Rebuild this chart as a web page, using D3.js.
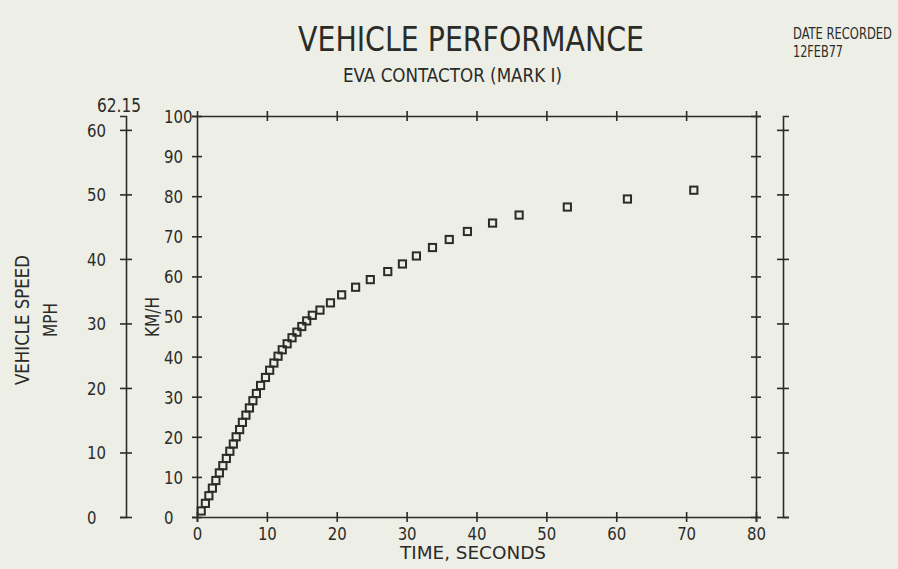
<!DOCTYPE html>
<head>
<meta charset="utf-8">
<style>
  body { margin: 0; background: #edefe7; }
  svg { display: block; }
  .plot text { font-family: "Liberation Sans Narrow", "DejaVu Sans Condensed", sans-serif; fill: #2b2b28; }
  .axis path, .axis line { stroke: #2b2b28; stroke-width: 1.6; }
  .axis text { font-size: 18px; }
</style>
</head>
<body>
<div id="chart"></div>
<script src="https://d3js.org/d3.v7.min.js"></script>
<script>
// readings (time in s, speed in km/h)
var timeSec = [0.6, 1.2, 1.7, 2.2, 2.7, 3.2, 3.7, 4.2, 4.7, 5.2, 5.6, 6.1, 6.5, 7.0, 7.5, 8.0, 8.5,
               9.1, 9.8, 10.4, 11.0, 11.6, 12.2, 12.9, 13.6, 14.3, 15.0, 15.7, 16.5, 17.6, 19.1, 20.7,
               22.7, 24.8, 27.3, 29.4, 31.4, 33.7, 36.1, 38.7, 42.3, 46.1, 53.0, 61.6, 71.1];
var speedKmh = [1.5, 3.4, 5.3, 7.2, 9.1, 11.0, 12.8, 14.6, 16.4, 18.2, 20.0, 21.8, 23.6, 25.4, 27.2, 29.0, 30.8,
                32.8, 34.8, 36.6, 38.4, 40.1, 41.7, 43.2, 44.7, 46.1, 47.5, 48.9, 50.3, 51.6, 53.4, 55.4,
                57.3, 59.2, 61.2, 63.1, 65.1, 67.2, 69.2, 71.2, 73.3, 75.3, 77.3, 79.3, 81.5];

var timeTicks = [0, 10, 20, 30, 40, 50, 60, 70, 80];
var kmhTicks = [0, 10, 20, 30, 40, 50, 60, 70, 80, 90, 100];
var mphTicks = [0, 10, 20, 30, 40, 50, 60];
var mphTop = 62.15;   // = 100 km/h

var width = 898, height = 569;

var svg = d3.select("#chart").append("svg")
    .attr("width", width)
    .attr("height", height)
    .attr("class", "plot");

var x = d3.scaleLinear().domain([0, 80]).range([197, 756]);
var y = d3.scaleLinear().domain([0, 100]).range([517, 116]);
var yMph = d3.scaleLinear().domain([0, mphTop]).range([517, 116]);

// ticks cross the axis line on both sides, labels squeezed like the plotter font
function crossTicks(g, horiz, len) {
  g.selectAll(".tick line")
    .attr(horiz ? "y1" : "x1", -len)
    .attr(horiz ? "y2" : "x2", len);
  g.selectAll(".tick text")
    .attr("lengthAdjust", "spacingAndGlyphs")
    .attr("textLength", function() { return this.textContent.length * 9.5; });
}

// bottom axis (time)
svg.append("g")
    .attr("class", "axis")
    .attr("transform", "translate(0," + y(0) + ")")
    .call(d3.axisBottom(x).tickValues(timeTicks).tickSizeOuter(0).tickSize(5).tickPadding(5).tickFormat(d3.format("d")))
    .call(crossTicks, true, 5);

// top of frame
svg.append("g")
    .attr("class", "axis")
    .attr("transform", "translate(0," + y(100) + ")")
    .call(d3.axisTop(x).tickValues(timeTicks.slice(1, 8)).tickSizeOuter(0).tickSize(5).tickFormat(""))
    .call(crossTicks, true, 5);

// left km/h axis
var kmh = svg.append("g")
    .attr("class", "axis")
    .attr("transform", "translate(" + x(0) + ",0)")
    .call(d3.axisLeft(y).tickValues(kmhTicks).tickSizeOuter(0).tickSize(5).tickFormat(d3.format("d")))
    .call(crossTicks, false, 5);
kmh.selectAll(".tick text").attr("x", -33).attr("text-anchor", "start").attr("dy", "0.36em");

// right side of frame
svg.append("g")
    .attr("class", "axis")
    .attr("transform", "translate(" + x(80) + ",0)")
    .call(d3.axisRight(y).tickValues(kmhTicks).tickSizeOuter(0).tickSize(5).tickFormat(""))
    .call(crossTicks, false, 5);

// left mph axis
var mph = svg.append("g")
    .attr("class", "axis")
    .attr("transform", "translate(126,0)")
    .call(d3.axisLeft(yMph).tickValues(mphTicks).tickSizeOuter(0).tickSize(6).tickFormat(d3.format("d")))
    .call(crossTicks, false, 6);
mph.selectAll(".tick text").attr("x", -39).attr("text-anchor", "start").attr("dy", "0.36em");

// right mph axis
svg.append("g")
    .attr("class", "axis")
    .attr("transform", "translate(783,0)")
    .call(d3.axisRight(yMph).tickValues(mphTicks).tickSizeOuter(0).tickSize(6).tickFormat(""))
    .call(crossTicks, false, 6);

svg.append("text")
    .attr("x", 97).attr("y", 112)
    .attr("font-size", 19)
    .attr("textLength", 44).attr("lengthAdjust", "spacingAndGlyphs")
    .text(mphTop.toFixed(2));

// data squares
svg.selectAll(".pt")
    .data(timeSec.map(function(t, i) { return [t, speedKmh[i]]; }))
  .enter().append("rect")
    .attr("class", "pt")
    .attr("x", function(d) { return x(d[0]) - 3.6; })
    .attr("y", function(d) { return y(d[1]) - 3.6; })
    .attr("width", 7.2)
    .attr("height", 7.2)
    .attr("fill", "none")
    .attr("stroke", "#2b2b28")
    .attr("stroke-width", 2);

// titles and axis labels
svg.append("text")
    .attr("x", 298).attr("y", 51)
    .attr("font-size", 33)
    .attr("textLength", 346).attr("lengthAdjust", "spacingAndGlyphs")
    .text("VEHICLE PERFORMANCE");

svg.append("text")
    .attr("x", 343).attr("y", 82)
    .attr("font-size", 19)
    .attr("font-family", "Liberation Sans, Arial, sans-serif")
    .attr("textLength", 219).attr("lengthAdjust", "spacingAndGlyphs")
    .text("EVA CONTACTOR (MARK I)");

svg.append("text")
    .attr("x", 793).attr("y", 39)
    .attr("font-size", 15)
    .attr("textLength", 99).attr("lengthAdjust", "spacingAndGlyphs")
    .text("DATE RECORDED");

svg.append("text")
    .attr("x", 793).attr("y", 57)
    .attr("font-size", 15)
    .attr("textLength", 50).attr("lengthAdjust", "spacingAndGlyphs")
    .text("12FEB77");

svg.append("text")
    .attr("x", 473).attr("y", 559)
    .attr("text-anchor", "middle")
    .attr("font-size", 18)
    .attr("textLength", 146).attr("lengthAdjust", "spacingAndGlyphs")
    .text("TIME, SECONDS");

svg.append("text")
    .attr("text-anchor", "middle")
    .attr("transform", "translate(29,320)rotate(-90)")
    .attr("font-size", 19)
    .attr("textLength", 130).attr("lengthAdjust", "spacingAndGlyphs")
    .text("VEHICLE SPEED");

svg.append("text")
    .attr("text-anchor", "middle")
    .attr("transform", "translate(57,320)rotate(-90)")
    .attr("font-size", 19)
    .attr("textLength", 34).attr("lengthAdjust", "spacingAndGlyphs")
    .text("MPH");

svg.append("text")
    .attr("text-anchor", "middle")
    .attr("transform", "translate(159,317)rotate(-90)")
    .attr("font-size", 19)
    .attr("textLength", 40).attr("lengthAdjust", "spacingAndGlyphs")
    .text("KM/H");
</script>
</body>
</html>
